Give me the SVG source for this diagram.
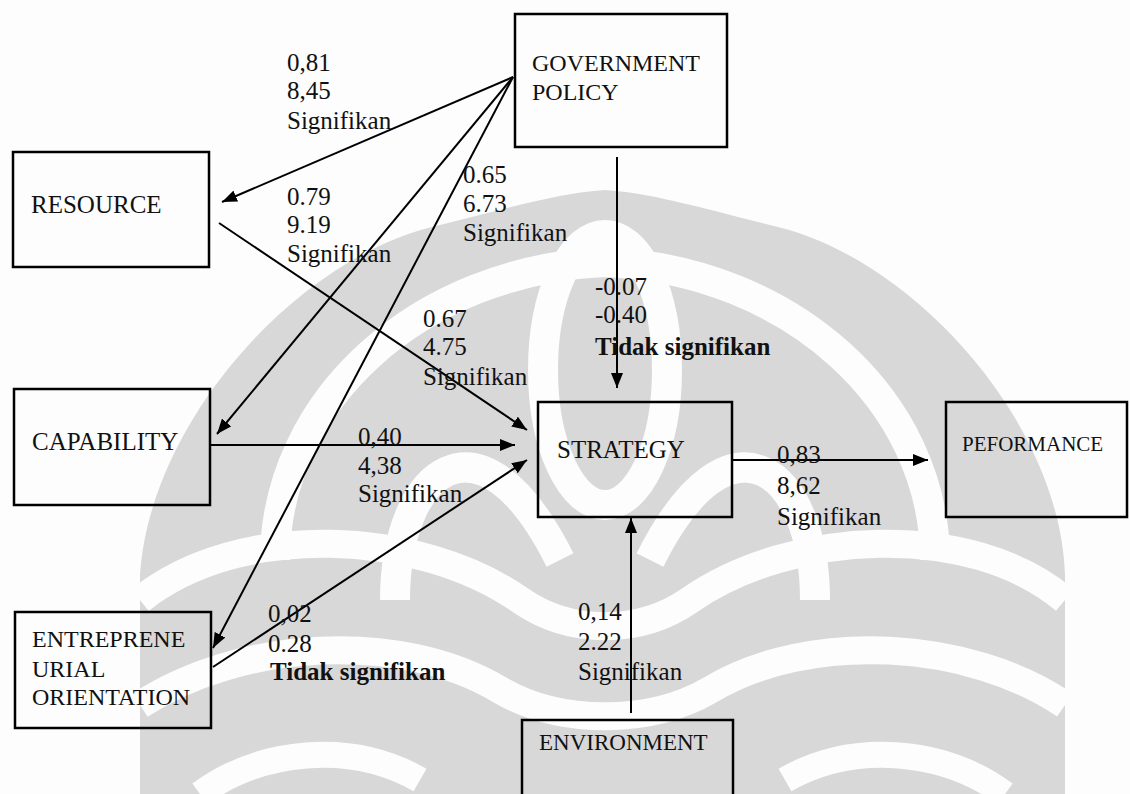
<svg xmlns="http://www.w3.org/2000/svg" width="1130" height="794" viewBox="0 0 1130 794">
  <style>
    .box { fill: none; stroke: #000; stroke-width: 2.5; }
    .lbl { font-family: "Liberation Serif", "Times New Roman", serif; font-size: 25px; fill: #111; }
    .val { font-family: "Liberation Serif", "Times New Roman", serif; font-size: 25px; fill: #111; }
    .bold { font-weight: bold; }
    .edge { stroke: #000; stroke-width: 2; fill: none; marker-end: url(#arrow); }
    .wm { fill: #d8d8d8; }
    .wmcut { fill: none; stroke: #fdfdfd; }
  </style>
  <defs>
    <marker id="arrow" markerWidth="16" markerHeight="12" refX="15" refY="6" orient="auto" markerUnits="userSpaceOnUse">
      <path d="M0,0 L15,6 L0,12 Z" fill="#000"/>
    </marker>
  </defs>

  <rect x="0" y="0" width="1130" height="794" fill="#fdfdfd"/>

  <!-- background emblem watermark -->
  <g id="watermark">
    <path class="wm" d="M140,794 L140,575 C150,420 300,255 440,225 C520,205 560,193 605,190 C650,193 690,205 770,225 C910,255 1060,420 1065,575 L1065,794 Z"/>
    <ellipse class="wmcut" cx="605" cy="370" rx="62" ry="135" stroke-width="30"/>
    <path class="wmcut" stroke-width="30" d="M275,560 C275,400 420,270 605,262 C790,270 935,400 935,560"/>
    <path class="wmcut" stroke-width="30" d="M395,600 C395,470 480,400 560,560"/>
    <path class="wmcut" stroke-width="30" d="M815,600 C815,470 730,400 650,560"/>
    <path class="wmcut" stroke-width="28" d="M140,600 C240,520 420,530 520,600 C570,635 640,635 690,600 C790,530 970,520 1065,600"/>
    <path class="wmcut" stroke-width="28" d="M140,705 C240,640 400,630 500,690 C560,725 650,725 710,690 C810,630 970,640 1065,705"/>
    <path class="wmcut" stroke-width="26" d="M200,794 C260,750 350,740 420,780"/>
    <path class="wmcut" stroke-width="26" d="M1005,794 C945,750 855,740 785,780"/>
  </g>

  <!-- connectors -->
  <g id="connectors">
    <path class="edge" d="M513,77 L222,202"/>
    <path class="edge" d="M513,77 L217,434"/>
    <path class="edge" d="M513,77 L213,648"/>
    <path class="edge" d="M219,223 L527,430"/>
    <path class="edge" d="M211,445 L515,445"/>
    <path class="edge" d="M213,667 L527,460"/>
    <path class="edge" d="M617,157 L617,388"/>
    <path class="edge" d="M732,460 L928,460"/>
    <path class="edge" d="M631,713 L631,518"/>
  </g>

  <!-- path coefficient labels -->
  <g id="labels">
    <text class="val" x="287" y="71">0,81</text>
    <text class="val" x="287" y="99">8,45</text>
    <text class="val" x="287" y="129">Signifikan</text>

    <text class="val" x="287" y="205">0.79</text>
    <text class="val" x="287" y="233">9.19</text>
    <text class="val" x="287" y="262">Signifikan</text>

    <text class="val" x="463" y="183">0.65</text>
    <text class="val" x="463" y="212">6.73</text>
    <text class="val" x="463" y="241">Signifikan</text>

    <text class="val" x="423" y="327">0.67</text>
    <text class="val" x="423" y="355">4.75</text>
    <text class="val" x="423" y="385">Signifikan</text>

    <text class="val" x="595" y="295">-0.07</text>
    <text class="val" x="595" y="323">-0.40</text>
    <text class="val bold" x="595" y="355">Tidak signifikan</text>

    <text class="val" x="358" y="445">0,40</text>
    <text class="val" x="358" y="474">4,38</text>
    <text class="val" x="358" y="502">Signifikan</text>

    <text class="val" x="777" y="463">0,83</text>
    <text class="val" x="777" y="494">8,62</text>
    <text class="val" x="777" y="525">Signifikan</text>

    <text class="val" x="268" y="622">0,02</text>
    <text class="val" x="268" y="652">0.28</text>
    <text class="val bold" x="270" y="680">Tidak signifikan</text>

    <text class="val" x="578" y="620">0,14</text>
    <text class="val" x="578" y="650">2.22</text>
    <text class="val" x="578" y="680">Signifikan</text>
  </g>

  <!-- nodes -->
  <g id="government-policy">
    <rect class="box" x="515" y="14" width="212" height="133"/>
    <text class="lbl" x="532" y="71" style="font-size:24px">GOVERNMENT</text>
    <text class="lbl" x="532" y="100" style="font-size:24px">POLICY</text>
  </g>
  <g id="resource">
    <rect class="box" x="13" y="152" width="196" height="115"/>
    <text class="lbl" x="31" y="213">RESOURCE</text>
  </g>
  <g id="capability">
    <rect class="box" x="14" y="389" width="196" height="116"/>
    <text class="lbl" x="32" y="450">CAPABILITY</text>
  </g>
  <g id="entrepreneurial-orientation">
    <rect class="box" x="15" y="612" width="196" height="116"/>
    <text class="lbl" x="32" y="647" style="font-size:24px">ENTREPRENE</text>
    <text class="lbl" x="32" y="677" style="font-size:24px">URIAL</text>
    <text class="lbl" x="32" y="705" style="font-size:24px">ORIENTATION</text>
  </g>
  <g id="strategy">
    <rect class="box" x="538" y="402" width="194" height="115"/>
    <text class="lbl" x="557" y="458">STRATEGY</text>
  </g>
  <g id="performance">
    <rect class="box" x="946" y="402" width="181" height="115"/>
    <text class="lbl" x="962" y="451" style="font-size:21px">PEFORMANCE</text>
  </g>
  <g id="environment">
    <rect class="box" x="522" y="720" width="211" height="90"/>
    <text class="lbl" x="539" y="750" style="font-size:23px">ENVIRONMENT</text>
  </g>
</svg>
